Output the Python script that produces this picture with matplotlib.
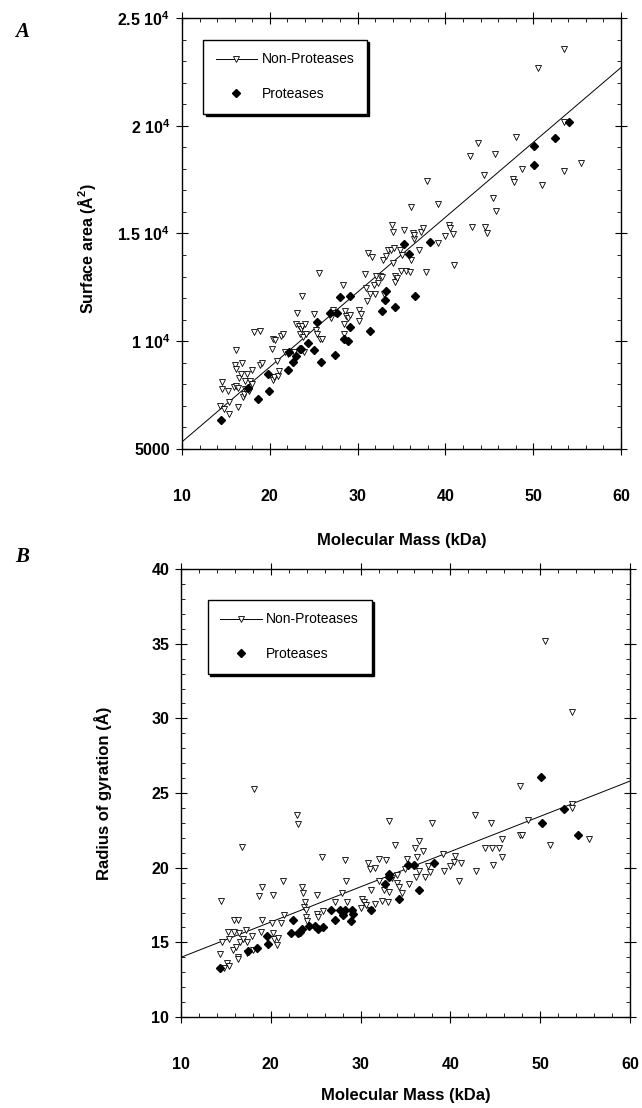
import matplotlib
matplotlib.use("Agg")
import matplotlib.pyplot as plt
from matplotlib.lines import Line2D
from matplotlib.ticker import MultipleLocator

plt.rcParams["font.family"] = ["Liberation Sans", "DejaVu Sans"]
plt.rcParams["font.weight"] = "bold"
plt.rcParams["axes.labelweight"] = "bold"
plt.rcParams["mathtext.fontset"] = "custom"
plt.rcParams["mathtext.rm"] = "Liberation Sans:bold"
plt.rcParams["mathtext.bf"] = "Liberation Sans:bold"

# ── Panel A: surface area vs molecular mass ──────────────────────────────────
mass_np_a = [14.3, 14.5, 14.5, 14.8, 15.3, 15.2, 15.3, 16.2, 16.0, 16.1,
             15.9, 16.1, 16.4, 16.4, 16.5, 16.7, 16.8, 17.0, 17.1, 17.2,
             17.2, 17.4, 17.6, 17.8, 18.0, 18.2, 18.9, 18.0, 18.9, 19.1,
             20.2, 20.4, 20.4, 20.6, 20.5, 20.8, 20.9, 21.0, 21.3, 21.5,
             21.7, 22.1, 22.7, 23.0, 23.1, 23.3, 23.4, 23.6, 23.7, 23.7,
             23.8, 23.9, 24.0, 24.1, 25.0, 25.3, 25.4, 25.6, 25.7, 25.9,
             27.0, 27.2, 27.4, 28.3, 28.4, 28.5, 28.6, 28.7, 28.9, 29.1,
             30.2, 30.2, 30.4, 30.8, 31.0, 31.1, 31.2, 31.4, 31.6, 31.9,
             32.0, 32.1, 32.3, 32.6, 32.8, 32.9, 33.0, 33.2, 33.5, 33.8,
             34.0, 33.9, 34.0, 34.1, 34.3, 34.3, 34.5, 34.8, 34.9, 35.1,
             35.3, 35.5, 36.0, 36.1, 36.1, 36.3, 36.4, 36.4, 37.0, 37.2,
             37.4, 37.8, 37.9, 39.2, 39.2, 39.9, 40.4, 40.5, 40.9, 41.0,
             42.8, 43.0, 43.7, 44.4, 44.5, 44.7, 45.4, 45.7, 45.8, 47.7,
             47.8, 48.0, 48.7, 50.5, 51.0, 53.5, 53.5, 53.5, 55.5]
area_np_a = [7000, 8110, 7770, 6850, 6620, 7670, 7160, 9580, 8900, 8730,
             7880, 7900, 7850, 6960, 8310, 8470, 9010, 7390, 7540, 7770,
             8160, 8500, 7670, 8160, 8650, 10440, 10470, 8000, 8900, 9010,
             9620, 10090, 8190, 10040, 8340, 9080, 8390, 8620, 10240, 10320,
             9500, 9390, 9520, 10810, 11320, 10700, 10320, 10550, 12090, 10700,
             10190, 9500, 10780, 10320, 11240, 10520, 10320, 13170, 10090, 10090,
             11060, 11430, 11320, 12630, 10320, 10810, 11400, 11160, 11060, 11210,
             11470, 10930, 11270, 13120, 12470, 11860, 14090, 12170, 13890, 12630,
             12170, 13010, 12700, 13040, 13000, 13780, 12170, 13940, 14250, 14250,
             15090, 15370, 13630, 14320, 13010, 12750, 12940, 14250, 13280, 14010,
             15170, 13240, 13210, 16250, 13780, 15020, 14740, 14910, 14250, 15090,
             15250, 13210, 17440, 16360, 14540, 14860, 15400, 15250, 14970, 13550,
             18610, 15290, 19180, 17710, 15280, 15020, 16630, 18710, 16060, 17530,
             17400, 19490, 17990, 22680, 17250, 23570, 20150, 17900, 18250]
mass_p_a = [14.4, 17.5, 18.7, 19.8, 19.9, 22.1, 22.2, 22.6, 23.0, 23.4,
            23.5, 24.3, 25.0, 25.4, 25.8, 26.8, 27.4, 27.7, 28.0, 28.4,
            28.9, 29.1, 29.1, 31.4, 32.8, 33.1, 33.2, 34.3, 35.3, 35.9,
            36.5, 38.2, 50.1, 50.1, 52.5, 54.1]
area_p_a = [6360, 7850, 7300, 8500, 7670, 8650, 9520, 9050, 9300, 9650,
            9640, 9900, 9580, 10900, 9040, 11300, 9360, 11330, 12040, 10120,
            10010, 10670, 12100, 10490, 11410, 11920, 12330, 11600, 14520, 14060,
            12090, 14600, 19070, 18160, 19440, 20180]
fit_mass_a = [10, 60]
fit_area_a = [5330, 22700]
yticks_a = [5000, 10000, 15000, 20000, 25000]
yticklabels_a = ["5000", "1 10$^{4}$", "1.5 10$^{4}$", "2 10$^{4}$", "2.5 10$^{4}$"]

# ── Panel B: radius of gyration vs molecular mass ────────────────────────────
mass_np_b = [14.3, 14.5, 14.6, 14.8, 15.1, 15.3, 15.2, 15.3, 15.8, 15.9,
             15.9, 16.1, 16.3, 16.3, 16.4, 16.5, 16.6, 16.8, 16.9, 17.2,
             17.3, 17.4, 17.9, 18.0, 18.1, 18.7, 18.9, 19.0, 19.0, 20.1,
             20.2, 20.3, 20.4, 20.7, 20.8, 21.1, 21.4, 21.5, 22.9, 23.0,
             23.5, 23.6, 23.7, 23.8, 23.9, 23.9, 24.0, 25.1, 25.2, 25.3,
             25.7, 25.8, 27.1, 28.3, 28.4, 28.5, 27.9, 30.0, 30.2, 30.4,
             30.6, 30.8, 31.0, 31.1, 31.2, 31.6, 31.6, 32.0, 32.1, 32.4,
             32.6, 32.8, 33.0, 33.2, 33.2, 33.5, 33.8, 34.0, 34.1, 34.3,
             34.6, 34.9, 35.2, 35.4, 36.1, 36.2, 36.3, 36.5, 36.5, 37.0,
             37.2, 37.5, 37.7, 37.9, 39.2, 39.3, 40.0, 40.4, 40.5, 41.0,
             41.2, 42.7, 42.9, 43.8, 44.5, 44.6, 44.8, 45.4, 45.8, 45.8,
             47.7, 47.8, 48.0, 48.6, 50.5, 51.1, 53.5, 53.5, 53.5, 55.4]
rg_np_b = [14.2, 17.8, 15.0, 13.3, 13.6, 13.4, 15.7, 15.2, 14.5, 16.5,
           15.7, 14.7, 14.0, 13.9, 16.5, 15.6, 15.0, 21.4, 15.2, 15.8,
           15.0, 14.3, 15.4, 14.5, 25.3, 18.1, 15.7, 18.7, 16.5, 16.3,
           15.6, 18.2, 15.2, 14.8, 15.3, 16.3, 19.1, 16.8, 23.5, 22.9,
           18.7, 18.3, 17.4, 17.7, 17.2, 16.7, 16.4, 16.9, 18.2, 16.7,
           20.7, 17.1, 17.7, 20.5, 19.1, 17.7, 18.3, 17.3, 17.9, 17.7,
           17.5, 20.3, 19.9, 17.2, 18.5, 17.6, 20.0, 20.6, 19.1, 17.8,
           18.5, 20.5, 17.7, 23.1, 18.4, 19.3, 21.5, 19.0, 19.5, 18.7,
           18.3, 19.9, 20.6, 18.9, 21.3, 19.4, 20.7, 21.8, 19.8, 21.1,
           19.4, 20.1, 19.7, 23.0, 20.9, 19.8, 20.1, 20.4, 20.8, 19.1,
           20.3, 23.5, 19.8, 21.3, 23.0, 21.3, 20.2, 21.3, 21.9, 20.7,
           25.5, 22.2, 22.2, 23.2, 35.2, 21.5, 24.3, 24.0, 30.4, 21.9]
mass_p_b = [14.3, 17.5, 18.5, 19.6, 19.7, 22.2, 22.5, 23.0, 23.3, 23.5,
            24.2, 24.9, 25.3, 25.8, 26.7, 27.2, 27.7, 28.0, 28.3, 28.9,
            29.0, 29.2, 31.2, 32.7, 33.2, 33.2, 34.3, 35.3, 35.9, 36.5,
            38.2, 50.1, 50.2, 52.6, 54.2]
rg_p_b = [13.3, 14.4, 14.6, 15.4, 14.9, 15.6, 16.5, 15.6, 15.7, 15.9,
          16.1, 16.1, 15.9, 16.0, 17.2, 16.5, 17.2, 16.8, 17.2, 16.4,
          17.2, 16.9, 17.2, 18.9, 19.4, 19.6, 17.9, 20.2, 20.2, 18.5,
          20.3, 26.1, 23.0, 23.9, 22.2]
fit_mass_b = [10, 60]
fit_rg_b = [14.0, 25.8]
yticks_b = [10, 15, 20, 25, 30, 35, 40]

xticks = [10, 20, 30, 40, 50, 60]
legend_labels = ["Non-Proteases", "Proteases"]


def style_axes(ax, ylim, ymajor, yminor):
    ax.set_xlim(10, 60)
    ax.set_ylim(*ylim)
    ax.set_xticks(xticks)
    ax.xaxis.set_minor_locator(MultipleLocator(2))
    ax.set_yticks(ymajor)
    ax.yaxis.set_minor_locator(MultipleLocator(yminor))
    ax.tick_params(which="major", direction="inout", length=9, width=0.8,
                   top=True, right=True, labelsize=11.5)
    ax.tick_params(which="minor", direction="in", length=3, width=0.6,
                   top=True, right=True)
    ax.tick_params(axis="x", which="major", pad=24)
    ax.tick_params(axis="y", which="major", pad=4)
    for sp in ax.spines.values():
        sp.set_linewidth(1.0)


def draw_panel(ax, m_np, v_np, m_p, v_p, fit_m, fit_v, anchor):
    ax.plot(fit_m, fit_v, color="black", lw=0.7)
    ax.plot(m_np, v_np, ls="none", marker="v", ms=4.4, mfc="white",
            mec="black", mew=0.6)
    ax.plot(m_p, v_p, ls="none", marker="D", ms=4.2, mfc="black",
            mec="black")
    handles = [
        Line2D([], [], color="black", lw=0.7, marker="v", ms=4.2,
               mfc="white", mec="black", mew=0.6),
        Line2D([], [], ls="none", marker="D", ms=4.2, color="black"),
    ]
    leg = ax.legend(handles, legend_labels, loc="upper left",
                    bbox_to_anchor=anchor, borderaxespad=0,
                    prop={"weight": "normal", "size": 10},
                    fancybox=False, framealpha=1, edgecolor="black",
                    shadow={"color": "black", "alpha": 1, "ox": 1.8, "oy": -1.8},
                    handlelength=3.0, handletextpad=0.3, labelspacing=1.5,
                    borderpad=0.9, numpoints=1)
    leg.get_frame().set_linewidth(1.0)


fig = plt.figure(figsize=(6.42, 11.08), dpi=100)

ax_a = fig.add_axes([0.2835, 0.5948, 0.6838, 0.3890])
draw_panel(ax_a, mass_np_a, area_np_a, mass_p_a, area_p_a,
           fit_mass_a, fit_area_a, (0.048, 0.949))
style_axes(ax_a, (5000, 25000), yticks_a, 1000)
ax_a.set_yticklabels(yticklabels_a)
ax_a.set_xlabel("Molecular Mass (kDa)", fontsize=12, fontweight="bold", va="top")
ax_a.xaxis.set_label_coords(0.5, -0.195)
ax_a.set_ylabel("Surface area (Å$^{2}$)", fontsize=11.5, fontweight="bold")
ax_a.yaxis.set_label_coords(-0.191, 0.465)

ax_b = fig.add_axes([0.2819, 0.0821, 0.6994, 0.4043])
draw_panel(ax_b, mass_np_b, rg_np_b, mass_p_b, rg_p_b,
           fit_mass_b, fit_rg_b, (0.060, 0.931))
style_axes(ax_b, (10, 40), yticks_b, 1)
ax_b.set_xlabel("Molecular Mass (kDa)", fontsize=12, fontweight="bold", va="top")
ax_b.xaxis.set_label_coords(0.5, -0.158)
ax_b.set_ylabel("Radius of gyration (Å)", fontsize=12, fontweight="bold")
ax_b.yaxis.set_label_coords(-0.154, 0.5)

for letter, ypos in (("A", 1 - 32 / 1108), ("B", 1 - 557 / 1108)):
    fig.text(0.034, ypos, letter, family="Liberation Serif", style="italic",
             weight="bold", fontsize=15, ha="center", va="center")

fig.savefig("out.png", dpi=100)
